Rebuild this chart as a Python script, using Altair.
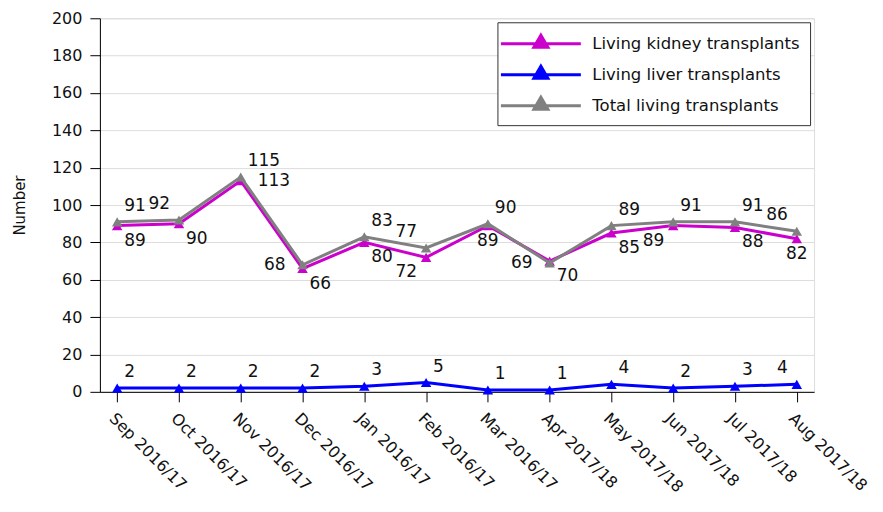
import altair as alt
import pandas as pd

months = ["Sep 2016/17", "Oct 2016/17", "Nov 2016/17", "Dec 2016/17", "Jan 2016/17",
          "Feb 2016/17", "Mar 2016/17", "Apr 2017/18", "May 2017/18", "Jun 2017/18",
          "Jul 2017/18", "Aug 2017/18"]
kidney = [89, 90, 113, 66, 80, 72, 89, 70, 85, 89, 88, 82]
liver = [2, 2, 2, 2, 3, 5, 1, 1, 4, 2, 3, 4]
total = [91, 92, 115, 68, 83, 77, 90, 69, 89, 91, 91, 86]

series_names = ["Living kidney transplants", "Living liver transplants", "Total living transplants"]
series_colors = ["#CC00CC", "#0000FF", "#808080"]

# label placement (style only): ar above-right, al above-left, br below-right,
# bl below-left, r right, l left, b below
kidney_place = ["br", "br", "r", "br", "br", "bl", "b", "br", "br", "bl", "br", "b"]
liver_place = ["ar"] * 11 + ["al"]
total_place = ["ar", "al", "ar", "l", "ar", "al", "ar", "l", "ar", "ar", "ar", "al"]

rows = []
for name, vals, places in zip(series_names, [kidney, liver, total],
                              [kidney_place, liver_place, total_place]):
    for m, v, p in zip(months, vals, places):
        rows.append({"month": m, "value": v, "series": name, "place": p})
df = pd.DataFrame(rows)

FONT = "DejaVu Sans"

x = alt.X("month:O", sort=months, title=None,
          scale=alt.Scale(type="point", padding=0.28),
          axis=alt.Axis(labelAngle=45, labelAlign="left", labelBaseline="top",
                        labelFontSize=16, labelFont=FONT, labelColor="#111",
                        tickSize=10, tickColor="#000", domainColor="#000",
                        labelPadding=8, grid=False))
y = alt.Y("value:Q", title="Number",
          scale=alt.Scale(domain=[0, 200]),
          axis=alt.Axis(values=list(range(0, 201, 20)), labelFontSize=16, labelFont=FONT,
                        labelColor="#111", tickSize=10, tickColor="#000", domainColor="#000",
                        labelPadding=8,
                        gridColor="#dddddd", titleFont=FONT, titleFontSize=15,
                        titleFontWeight="normal", titleColor="#111", titlePadding=24))
color = alt.Color("series:N", scale=alt.Scale(domain=series_names, range=series_colors),
                  legend=alt.Legend(title=None, orient="top-right", offset=4,
                                    symbolType="M-1.8,0H6.2M1.5,0.35L2.2,-0.85L2.9,0.35Z",
                                    symbolSize=400, symbolStrokeWidth=3,
                                    labelFont=FONT, labelFontSize=16.5,
                                    labelColor="#111", labelOffset=62, labelLimit=400,
                                    rowPadding=7, padding=10,
                                    fillColor="white", strokeColor="#333"))

layers = []
for name in series_names:
    sub = alt.Chart(df).transform_filter(alt.datum.series == name)
    layers.append(sub.mark_line(strokeWidth=3).encode(x=x, y=y, color=color))
    layers.append(sub.mark_point(shape="triangle-up", filled=True, size=110, opacity=1)
                  .encode(x=x, y=y, color=color))

placements = {
    "ar": ("left", 7, -16),
    "al": ("right", -9, -16),
    "br": ("left", 7, 15),
    "bl": ("right", -9, 15),
    "r": ("left", 17, 0),
    "l": ("right", -17, 0),
    "b": ("center", 0, 15),
}
for key, (align, dx, dy) in placements.items():
    layers.append(alt.Chart(df).transform_filter(alt.datum.place == key)
                  .mark_text(align=align, baseline="middle", dx=dx, dy=dy,
                             font=FONT, fontSize=17, color="#111")
                  .encode(x=x, y=y, text="value:Q"))

chart = alt.layer(*layers).properties(width=715, height=374).configure_view(
    stroke="#000", strokeWidth=1.5).configure(padding={"left": 4, "top": 2, "right": 5, "bottom": 5})

chart.save("out.html", embed_options={"renderer": "svg", "actions": False})
